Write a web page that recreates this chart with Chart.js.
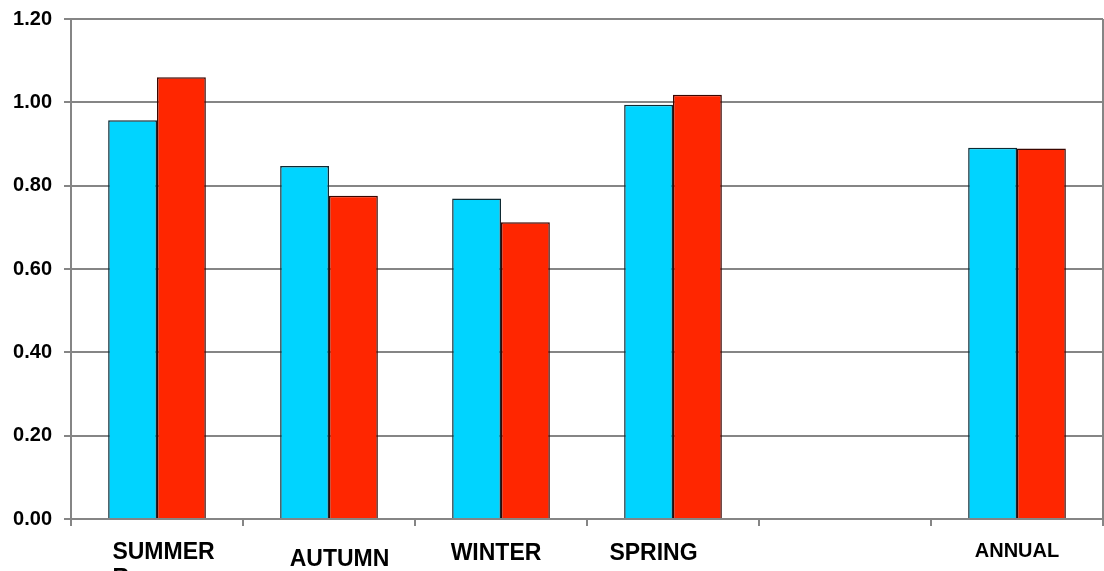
<!DOCTYPE html>
<html>
<head>
<meta charset="utf-8">
<title>Seasonal ratios</title>
<script src="https://cdn.jsdelivr.net/npm/chart.js@4/dist/chart.umd.min.js"></script>
<style>
  html, body { margin: 0; padding: 0; background: #ffffff; }
  #wrap { width: 1104px; height: 571px; overflow: hidden; }
</style>
</head>
<body>
<div id="wrap"><canvas id="c" width="1104" height="571"></canvas></div>
<script>
// Season categories (the fifth slot is an empty spacer before the annual pair)
const categories = ['SUMMER', 'AUTUMN', 'WINTER', 'SPRING', '', 'ANNUAL'];
// Cyan series
const cyanValues = [0.957, 0.847, 0.769, 0.994, null, 0.891];
// Red series
const redValues = [1.060, 0.776, 0.712, 1.018, null, 0.889];
// Value axis tick labels
const yTickLabels = ['0.00', '0.20', '0.40', '0.60', '0.80', '1.00', '1.20'];

const FONT = '"Liberation Sans", Arial, Helvetica, sans-serif';
const GRID = '#858585';

// Category label placement under the axis: horizontal shift from the
// category centre, baseline y, font size, and any wrapped second line.
const labelStyle = [
  { dx: 6.5,  y: 559, size: 23, extra: 'R' },
  { dx: 10.5, y: 566, size: 23 },
  { dx: -5,   y: 560, size: 23 },
  { dx: -19.5, y: 560, size: 23 },
  { dx: 0,    y: 560, size: 23 },
  { dx: 0,    y: 557, size: 20 }
];

const categoryLabels = {
  id: 'categoryLabels',
  afterDraw(chart) {
    const ctx = chart.ctx;
    const xs = chart.scales.x;
    ctx.save();
    ctx.fillStyle = '#000000';
    ctx.textBaseline = 'alphabetic';
    categories.forEach((name, i) => {
      if (!name) return;
      const st = labelStyle[i];
      const cx = xs.getPixelForValue(i) + st.dx;
      ctx.font = 'bold ' + st.size + 'px ' + FONT;
      ctx.textAlign = 'center';
      ctx.fillText(name, cx, st.y);
      if (st.extra) {
        const w = ctx.measureText(name).width;
        ctx.textAlign = 'left';
        ctx.fillText(st.extra, cx - w / 2, st.y + 26);
      }
    });
    ctx.restore();
  }
};

// Right-hand frame edge of the plot area
const rightEdge = {
  id: 'rightEdge',
  afterDatasetsDraw(chart) {
    const { ctx, chartArea } = chart;
    ctx.save();
    ctx.strokeStyle = GRID;
    ctx.lineWidth = 2;
    ctx.beginPath();
    ctx.moveTo(chartArea.right, chartArea.top);
    ctx.lineTo(chartArea.right, chartArea.bottom + 7);
    ctx.stroke();
    ctx.restore();
  }
};

new Chart(document.getElementById('c'), {
  type: 'bar',
  data: {
    labels: categories,
    datasets: [
      {
        label: 'Cyan',
        data: cyanValues,
        backgroundColor: '#00d4ff',
        borderColor: '#0e2a33',
        borderWidth: 1.5,
        borderSkipped: 'bottom'
      },
      {
        label: 'Red',
        data: redValues,
        backgroundColor: '#ff2600',
        borderColor: '#3a0600',
        borderWidth: 1.5,
        borderSkipped: 'bottom'
      }
    ]
  },
  options: {
    responsive: false,
    animation: false,
    events: [],
    layout: { padding: { top: 19, right: 1, bottom: 0, left: 0 } },
    datasets: {
      bar: { categoryPercentage: 0.568, barPercentage: 1.0, grouped: true }
    },
    plugins: {
      legend: { display: false },
      tooltip: { enabled: false },
      title: { display: false }
    },
    scales: {
      x: {
        offset: true,
        grid: {
          offset: true,
          drawOnChartArea: false,
          drawTicks: true,
          tickLength: 7,
          color: GRID,
          lineWidth: 2
        },
        border: { display: true, color: GRID, width: 2 },
        ticks: { display: false },
        afterFit(scale) {
          scale.height = 52;
          scale.paddingLeft = 0;
          scale.paddingRight = 0;
        }
      },
      y: {
        min: 0,
        max: 1.2,
        grid: {
          drawTicks: true,
          tickLength: 7,
          color: GRID,
          lineWidth: 2
        },
        border: { display: true, color: GRID, width: 2 },
        ticks: {
          stepSize: 0.2,
          padding: 12,
          color: '#000000',
          font: { family: FONT, size: 20, weight: 'bold' },
          callback(value) {
            const idx = Math.round(value / 0.2);
            return yTickLabels[idx] !== undefined ? yTickLabels[idx] : '';
          }
        },
        afterFit(scale) {
          scale.width = 71;
          scale.paddingTop = 0;
          scale.paddingBottom = 0;
        }
      }
    }
  },
  plugins: [categoryLabels, rightEdge]
});
</script>
</body>
</html>
